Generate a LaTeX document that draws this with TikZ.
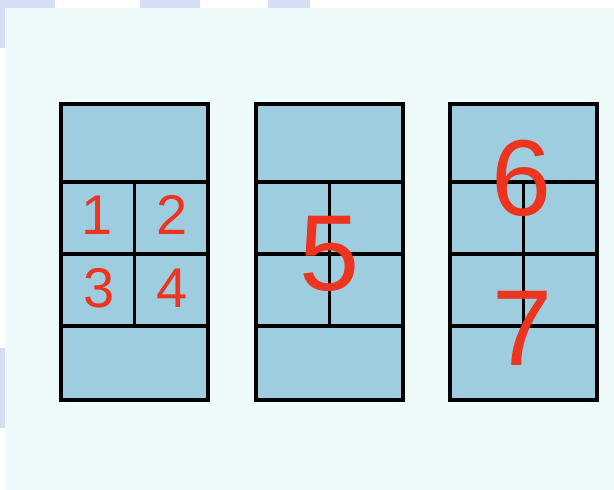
\documentclass[tikz,border=0pt]{standalone}
\usepackage{fontspec}
\setmainfont{Liberation Sans}
\usepackage{tikz}

\definecolor{cellblue}{RGB}{158,205,224}
\definecolor{numred}{RGB}{236,52,30}
\definecolor{paper}{RGB}{238,249,250}
\definecolor{tabblue}{RGB}{212,223,245}

\tikzset{
  grid line/.style={line width=3.5pt,black},
  small num/.style={text=numred,inner sep=0pt,font=\fontsize{56}{56}\selectfont},
  big num/.style={text=numred,inner sep=0pt,font=\fontsize{108}{108}\selectfont}
}

\begin{document}
\begin{tikzpicture}[x=1pt,y=-1pt]
    \useasboundingbox (0,0) rectangle (614,490);
    \fill[white] (0,0) rectangle (614,490);
    \fill[paper] (5,8) rectangle (614,490);
    % scraps at the edges
    \fill[tabblue] (0,0) rectangle (55,8);
    \fill[tabblue] (0,0) rectangle (5,48);
    \fill[tabblue] (140,0) rectangle (200,8);
    \fill[tabblue] (268,0) rectangle (310,8);
    \fill[tabblue] (0,348) rectangle (5,428);
    % the three panels
    \foreach \px in {61,256,450}
    \draw[grid line,fill=cellblue] (\px,104) rectangle +(147,296);
    \foreach \px in {61,256,450}
    \foreach \py in {182,254,326}
    \draw[grid line] (\px,\py) -- +(147,0);
    \foreach \px in {61,256,450}
    \draw[grid line] (\px+73.5,182) -- +(0,144);
    % numbers
    \node[small num] (one) at (97,215) {1};
    \node[small num] (two) at (172,215) {2};
    \node[small num] (three) at (99,288) {3};
    \node[small num] (four) at (172,288) {4};
    \node[big num] (five) at (330,254) {5};
    \node[big num] (six) at (522,178) {6};
    \node[big num] (seven) at (523,328) {7};
\end{tikzpicture}
\end{document}
